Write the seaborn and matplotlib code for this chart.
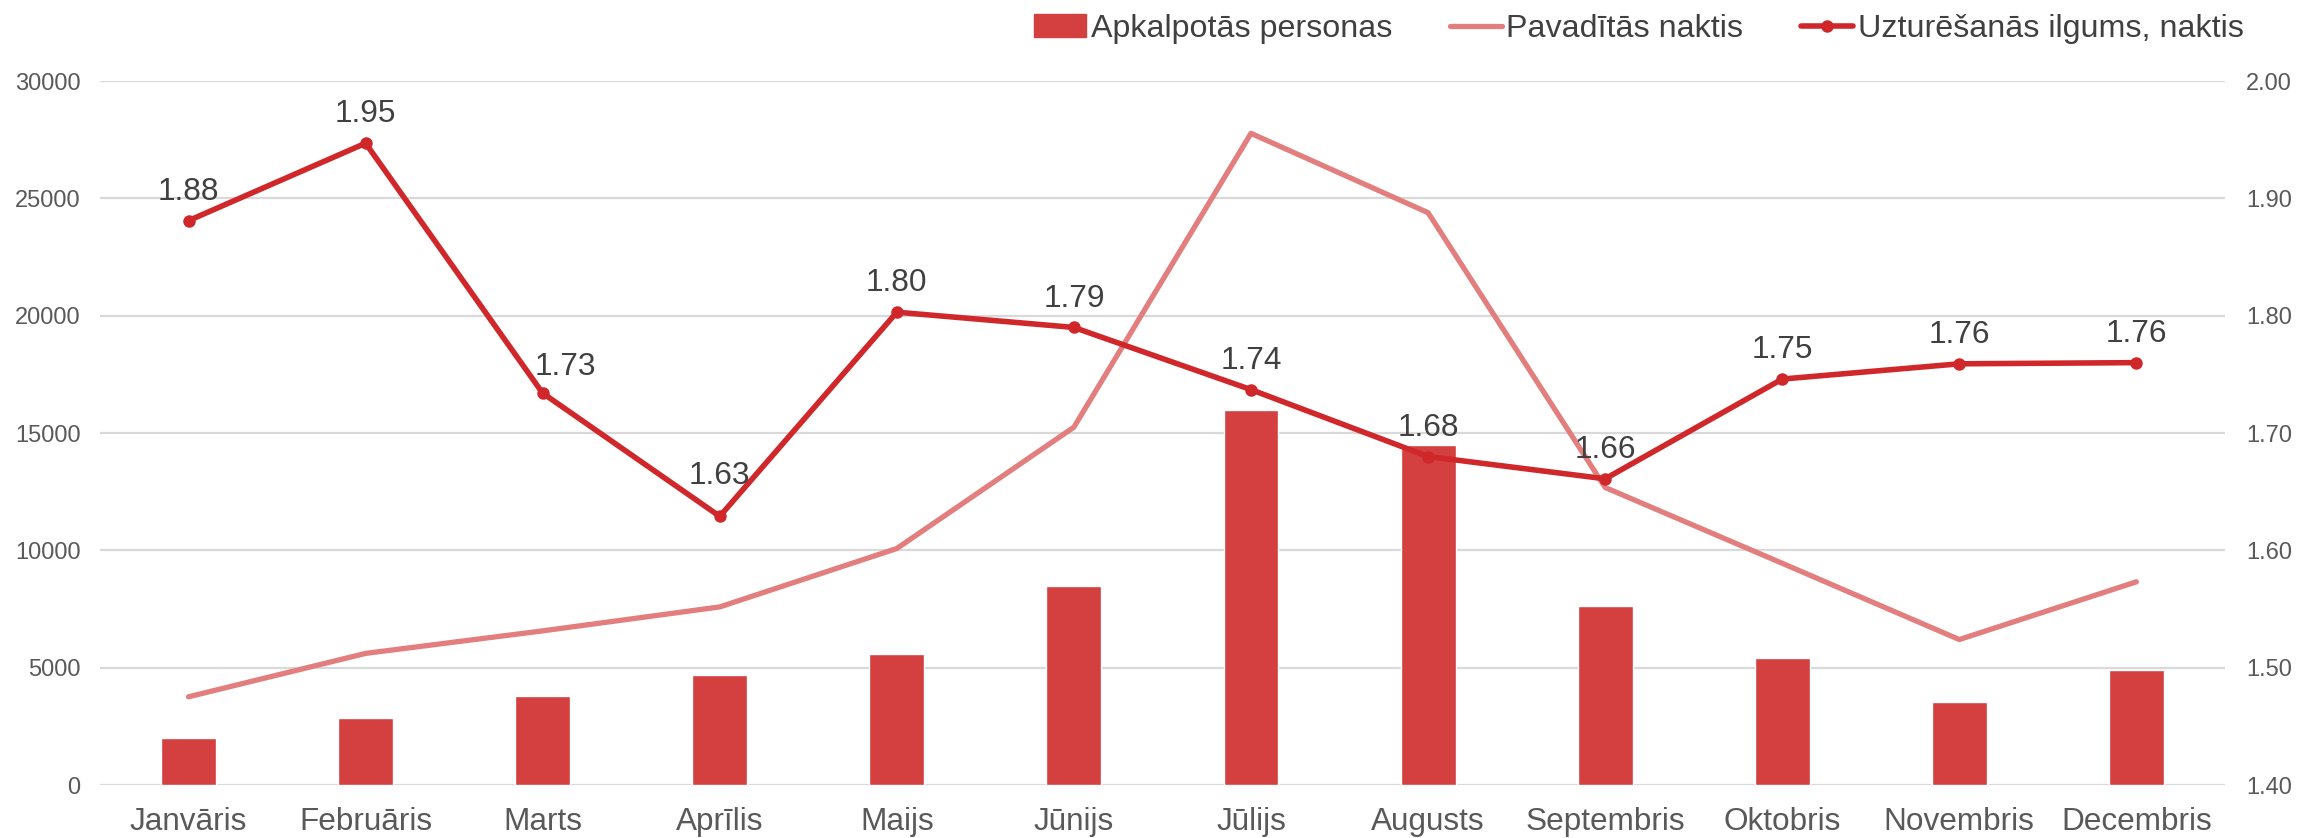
import numpy as np
import pandas as pd
import seaborn as sns
import matplotlib.pyplot as plt
from matplotlib.patches import Patch
from matplotlib.lines import Line2D
from matplotlib.ticker import FormatStrFormatter

sns.set_style("white")
plt.rcParams['font.family'] = ['Liberation Sans', 'DejaVu Sans']

months = ['Janvāris', 'Februāris', 'Marts', 'Aprīlis', 'Maijs', 'Jūnijs',
          'Jūlijs', 'Augusts', 'Septembris', 'Oktobris', 'Novembris', 'Decembris']
persons = [2000, 2870, 3790, 4670, 5600, 8500, 16000, 14500, 7620, 5430, 3520, 4910]
nights = [3760, 5610, 6570, 7590, 10080, 15250, 27770, 24390, 12680, 9450, 6200, 8660]
stay = [1.881, 1.947, 1.734, 1.629, 1.803, 1.790, 1.737, 1.680, 1.661, 1.746, 1.759, 1.760]

series_names = ['Apkalpotās personas', 'Pavadītās naktis', 'Uzturēšanās ilgums, naktis']

BAR = '#D43F3F'
LIGHT = '#E27E7E'
DARK = '#D0272A'
TICK = '#595959'
LABEL = '#404040'

df = pd.DataFrame({'month': months, 'pos': np.arange(len(months)),
                   'persons': persons, 'nights': nights, 'stay': stay})

fig = plt.figure(figsize=(22.98, 8.38), dpi=100)
ax = fig.add_axes([0.0435, 0.0632, 0.9247, 0.8401])

sns.barplot(data=df, x='pos', y='persons', color=BAR, saturation=1, width=0.31, ax=ax, zorder=2)
sns.lineplot(data=df, x='pos', y='nights', color=LIGHT, lw=3.8, ax=ax, legend=False, zorder=3)

ax.set_ylim(0, 30000)
ax.set_yticks(np.arange(0, 30001, 5000))
ax.set_xlim(-0.5, len(months) - 0.5)
ax.set_xticks(df['pos'])
ax.set_xticklabels(months)
ax.set_xlabel('')
ax.set_ylabel('')
ax.grid(axis='y', color='#D9D9D9', lw=1.6)
ax.grid(axis='x', visible=False)
ax.set_axisbelow(True)
ax.tick_params(axis='y', length=0, pad=14, labelsize=17, labelcolor=TICK)
ax.tick_params(axis='x', length=0, pad=16, labelsize=22.7, labelcolor=TICK)
for s in ax.spines.values():
    s.set_visible(False)

ax2 = ax.twinx()
sns.lineplot(data=df, x='pos', y='stay', color=DARK, lw=4, marker='o', markersize=9,
             markeredgewidth=0, ax=ax2, legend=False)
ax2.set_ylim(1.4, 2.0)
ax2.set_yticks(np.arange(1.4, 2.001, 0.1))
ax2.yaxis.set_major_formatter(FormatStrFormatter('%.2f'))
ax2.set_ylabel('')
ax2.grid(False)
ax2.tick_params(axis='y', length=0, pad=15, labelsize=17, labelcolor=TICK)
for s in ax2.spines.values():
    s.set_visible(False)

# label nudges (points), like the manual moves in the original
nudge = {'Marts': (16, -2), 'Aprīlis': (0, 8)}
for m, p, v in zip(months, df['pos'], stay):
    dx, dy = nudge.get(m, (0, 0))
    ax2.annotate(f'{v:.2f}', (p, v), xytext=(dx, 15 + dy), textcoords='offset points',
                 ha='center', va='baseline', fontsize=22.8, color=LABEL)

handles = [Patch(color=BAR),
           Line2D([], [], color=LIGHT, lw=3.8),
           Line2D([], [], color=DARK, lw=4, marker='o', markersize=9, markeredgewidth=0)]
fig.legend(handles, series_names, loc='upper right', bbox_to_anchor=(0.989, 1.018), ncol=3,
           frameon=False, fontsize=23.2, handlelength=1.6, columnspacing=1.8,
           handletextpad=0.15, labelcolor=LABEL)

fig.savefig('out.png', dpi=100)
